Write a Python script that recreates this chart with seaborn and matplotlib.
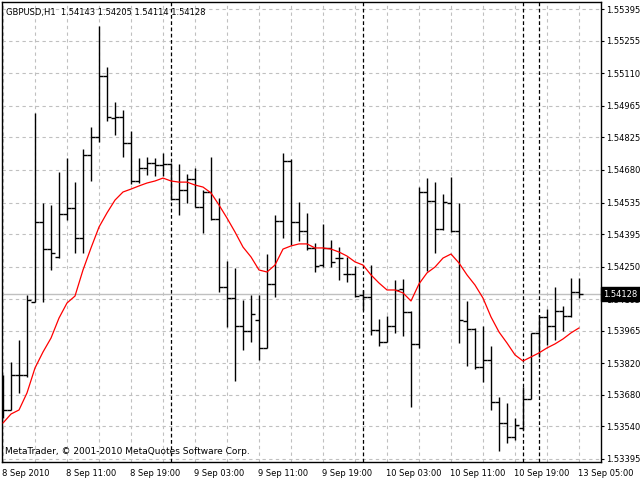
import numpy as np
import pandas as pd
import matplotlib
matplotlib.use("Agg")
import matplotlib.pyplot as plt
import matplotlib.transforms as mtransforms
import seaborn as sns

# ---------------- data (GBPUSD H1) ----------------
opens = [1.53590, 1.53612, 1.53768, 1.53768, 1.54092, 1.54449, 1.54328, 1.54293, 1.54484, 1.54511,
         1.54377, 1.54747, 1.54827, 1.55098, 1.54911, 1.54916, 1.54800, 1.54631, 1.54689, 1.54711,
         1.54702, 1.54707, 1.54551, 1.54591, 1.54640, 1.54515, 1.54582, 1.54462, 1.54159, 1.54110,
         1.53986, 1.53963, 1.54012, 1.53888, 1.54173, 1.54453, 1.54720, 1.54449, 1.54408, 1.54333,
         1.54257, 1.54333, 1.54288, 1.54217, 1.54217, 1.54124, 1.54115, 1.53968, 1.53915, 1.53986,
         1.54150, 1.54048, 1.53906, 1.54582, 1.54542, 1.54417, 1.54533, 1.54408, 1.54008, 1.53972,
         1.53803, 1.53834, 1.53647, 1.53554, 1.53492, 1.53532, 1.53661, 1.53955, 1.54026, 1.53986,
         1.54052, 1.54030, 1.54137]
highs = [1.53768, 1.53825, 1.53923, 1.54124, 1.54934, 1.54533, 1.54524, 1.54671, 1.54733, 1.54626,
         1.54773, 1.54871, 1.55321, 1.55138, 1.54983, 1.54947, 1.54853, 1.54733, 1.54738, 1.54733,
         1.54756, 1.54711, 1.54707, 1.54662, 1.54689, 1.54591, 1.54738, 1.54555, 1.54275, 1.54244,
         1.54101, 1.54124, 1.54124, 1.54306, 1.54480, 1.54756, 1.54729, 1.54538, 1.54489, 1.54355,
         1.54440, 1.54368, 1.54337, 1.54293, 1.54253, 1.54146, 1.54257, 1.54017, 1.54030, 1.54190,
         1.54195, 1.54052, 1.54604, 1.54644, 1.54626, 1.54573, 1.54649, 1.54533, 1.54097, 1.53977,
         1.53986, 1.53897, 1.53670, 1.53643, 1.53576, 1.53714, 1.53955, 1.54035, 1.54061, 1.54159,
         1.54075, 1.54199, 1.54199]
lows = [1.53576, 1.53612, 1.53688, 1.53759, 1.54092, 1.54092, 1.54235, 1.54288, 1.54457, 1.54311,
        1.54311, 1.54631, 1.54805, 1.54898, 1.54836, 1.54738, 1.54618, 1.54622, 1.54658, 1.54653,
        1.54653, 1.54546, 1.54480, 1.54533, 1.54515, 1.54400, 1.54457, 1.54137, 1.53981, 1.53741,
        1.53879, 1.53915, 1.53834, 1.53888, 1.54115, 1.54377, 1.54346, 1.54364, 1.54324, 1.54226,
        1.54248, 1.54248, 1.54190, 1.54182, 1.54115, 1.54057, 1.53946, 1.53897, 1.53915, 1.53955,
        1.53941, 1.53625, 1.53888, 1.54230, 1.54311, 1.54413, 1.54404, 1.53910, 1.53808, 1.53794,
        1.53737, 1.53612, 1.53429, 1.53465, 1.53478, 1.53523, 1.53661, 1.53848, 1.53901, 1.53923,
        1.53963, 1.54026, 1.54110]
closes = [1.53612, 1.53768, 1.53768, 1.54101, 1.54449, 1.54328, 1.54311, 1.54484, 1.54511, 1.54377,
          1.54747, 1.54827, 1.55098, 1.54916, 1.54916, 1.54800, 1.54631, 1.54689, 1.54711, 1.54702,
          1.54707, 1.54551, 1.54591, 1.54640, 1.54515, 1.54582, 1.54462, 1.54159, 1.54110, 1.53986,
          1.53963, 1.54039, 1.53888, 1.54173, 1.54453, 1.54720, 1.54449, 1.54408, 1.54333, 1.54253,
          1.54333, 1.54271, 1.54288, 1.54217, 1.54119, 1.54115, 1.53968, 1.53915, 1.53986, 1.54146,
          1.54048, 1.53906, 1.54582, 1.54542, 1.54417, 1.54538, 1.54408, 1.54012, 1.53972, 1.53803,
          1.53834, 1.53647, 1.53554, 1.53492, 1.53545, 1.53661, 1.53955, 1.54026, 1.53986, 1.54052,
          1.54030, 1.54137, 1.54128]
ma = [1.53554, 1.53594, 1.53612, 1.53688, 1.53799, 1.53870, 1.53932, 1.54021, 1.54088, 1.54119,
      1.54235, 1.54333, 1.54426, 1.54489, 1.54546, 1.54582, 1.54595, 1.54609, 1.54622, 1.54631,
      1.54644, 1.54631, 1.54626, 1.54626, 1.54613, 1.54604, 1.54578, 1.54524, 1.54466, 1.54404,
      1.54337, 1.54293, 1.54235, 1.54226, 1.54257, 1.54328, 1.54342, 1.54351, 1.54351, 1.54333,
      1.54333, 1.54328, 1.54315, 1.54297, 1.54271, 1.54257, 1.54213, 1.54177, 1.54146, 1.54146,
      1.54133, 1.54097, 1.54173, 1.54222, 1.54248, 1.54288, 1.54306, 1.54266, 1.54213, 1.54168,
      1.54110, 1.54026, 1.53959, 1.53910, 1.53857, 1.53830, 1.53848, 1.53866, 1.53888, 1.53906,
      1.53928, 1.53955, 1.53977]

time_labels = ["8 Sep 2010", "8 Sep 11:00", "8 Sep 19:00", "9 Sep 03:00", "9 Sep 11:00",
               "9 Sep 19:00", "10 Sep 03:00", "10 Sep 11:00", "10 Sep 19:00", "13 Sep 05:00"]
price_ticks = [1.55395, 1.55255, 1.55110, 1.54965, 1.54825, 1.54680, 1.54535, 1.54395,
               1.54250, 1.54105, 1.53965, 1.53820, 1.53680, 1.53540, 1.53395]
separators = [21, 45, 65, 67]
current_price = 1.54128
header = "GBPUSD,H1  1.54143 1.54205 1.54114 1.54128"
footer = "MetaTrader, \u00a9 2001-2010 MetaQuotes Software Corp."

# ---------------- drawing ----------------
sns.set_style("white")
plt.rcParams['font.family'] = ['DejaVu Sans']

df = pd.DataFrame({"bar": np.arange(len(opens)), "open": opens, "high": highs,
                   "low": lows, "close": closes, "ma": ma})

fig = plt.figure(figsize=(6.4, 4.8), dpi=100)
ax = fig.add_axes([2 / 640, 18 / 480, 599 / 640, 460 / 480])

grid_kw = dict(color="#c0c0c0", lw=0.8, ls=(0, (3, 3)))
ax.set_xticks(np.arange(0, len(opens), 8))
ax.set_xticks(np.arange(4, len(opens) + 4, 8), minor=True)
ax.set_yticks(price_ticks)
ax.grid(True, which="both", axis="x", **grid_kw)
ax.grid(True, which="major", axis="y", **grid_kw)
ax.set_axisbelow(True)

for s in separators:
    ax.axvline(s, color="black", lw=0.9, ls=(0, (3, 2)), zorder=1)

ax.axhline(current_price, color="#c0c0c0", lw=1.0, zorder=1.5)

# OHLC bars
ax.vlines(df["bar"], df["low"], df["high"], color="black", lw=1.0, zorder=3)
ax.hlines(df["open"], df["bar"] - 0.45, df["bar"], color="black", lw=1.0, zorder=3)
ax.hlines(df["close"], df["bar"], df["bar"] + 0.45, color="black", lw=1.0, zorder=3)

# moving average
sns.lineplot(data=df, x="bar", y="ma", color="red", lw=0.9, ax=ax, zorder=4)

ax.set_xlim(-0.125, 74.75)
ax.set_ylim(1.533805, 1.554275)
ax.set_xlabel("")
ax.set_ylabel("")

ax.set_xticklabels(time_labels)
for lbl in ax.get_xticklabels():
    lbl.set_ha("left")
ax.yaxis.tick_right()
ax.set_yticklabels([f"{v:.5f}" for v in price_ticks])
ax.tick_params(axis="x", which="major", direction="out", length=3, width=0.8,
               pad=2, labelsize=6, colors="black")
ax.tick_params(axis="x", which="minor", length=0)
ax.tick_params(axis="y", direction="out", length=2.5, width=0.8, pad=1,
               labelsize=6, colors="black", right=True, left=False)
for lbl in ax.get_xticklabels():
    lbl.set_transform(lbl.get_transform() + mtransforms.ScaledTranslation(-1 / 100, 0, fig.dpi_scale_trans))

for sp in ax.spines.values():
    sp.set_color("black")
    sp.set_linewidth(1.0)

# current price box
trans = mtransforms.blended_transform_factory(ax.transAxes, ax.transData)
ax.text(1.004, current_price, "1.54128", transform=trans, ha="left", va="center",
        fontsize=6, color="white", zorder=10, clip_on=False,
        bbox=dict(boxstyle="square,pad=0.25", fc="black", ec="black"))

ax.text(0.006, 0.988, header, transform=ax.transAxes, ha="left", va="top",
        fontsize=6, color="black")
ax.text(0.005, 0.012, footer, transform=ax.transAxes, ha="left", va="bottom",
        fontsize=6.5, color="black")

fig.savefig("out.png", dpi=100, facecolor="white")
